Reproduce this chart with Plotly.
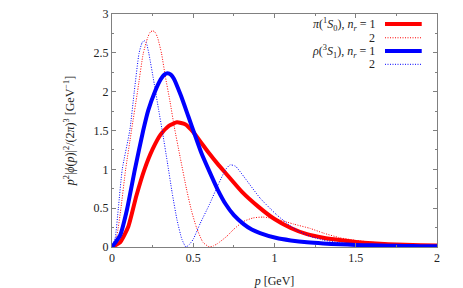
import plotly.graph_objects as go

# Data
p_pi1 = [0, 0.05, 0.1, 0.15, 0.2, 0.25, 0.3, 0.35, 0.4, 0.45, 0.5, 0.55, 0.6, 0.65, 0.7, 0.8, 0.9, 1.0, 1.1, 1.2, 1.3, 1.4, 1.5, 1.6, 1.7, 1.8, 1.9, 2.0]
v_pi1 = [0, 0.06, 0.26, 0.66, 1.0, 1.26, 1.45, 1.56, 1.605, 1.58, 1.48, 1.34, 1.2, 1.07, 0.95, 0.71, 0.52, 0.36, 0.245, 0.165, 0.12, 0.09, 0.065, 0.048, 0.036, 0.028, 0.022, 0.018]

p_pi2 = [0, 0.03, 0.055, 0.084, 0.12, 0.157, 0.192, 0.22, 0.235, 0.25, 0.265, 0.28, 0.305, 0.327, 0.358, 0.383, 0.42, 0.458, 0.49, 0.52, 0.56, 0.6, 0.625, 0.65, 0.706, 0.75, 0.81, 0.87, 0.93, 1.013, 1.116, 1.218, 1.3, 1.4, 1.5, 1.6, 1.7, 1.8, 1.9, 2.0]
v_pi2 = [0, 0.15, 0.5, 1.0, 1.5, 2.0, 2.49, 2.7, 2.765, 2.785, 2.765, 2.7, 2.49, 2.21, 1.86, 1.55, 1.15, 0.75, 0.46, 0.25, 0.06, 0.0, 0.015, 0.045, 0.137, 0.23, 0.33, 0.375, 0.385, 0.36, 0.296, 0.24, 0.18, 0.12, 0.085, 0.062, 0.045, 0.035, 0.028, 0.022]

p_rho1 = [0, 0.05, 0.092, 0.141, 0.192, 0.223, 0.264, 0.3, 0.322, 0.342, 0.362, 0.38, 0.424, 0.47, 0.514, 0.55, 0.6, 0.65, 0.7, 0.75, 0.81, 0.86, 0.911, 1.013, 1.1, 1.2, 1.3, 1.4, 1.5, 1.6, 1.7, 1.8, 1.9, 2.0]
v_rho1 = [0, 0.15, 0.48, 1.0, 1.5, 1.76, 2.0, 2.16, 2.22, 2.237, 2.22, 2.17, 1.95, 1.68, 1.42, 1.21, 0.97, 0.74, 0.55, 0.41, 0.295, 0.225, 0.18, 0.115, 0.085, 0.06, 0.045, 0.035, 0.027, 0.021, 0.017, 0.014, 0.011, 0.009]

p_rho2 = [0, 0.02, 0.039, 0.063, 0.11, 0.137, 0.166, 0.185, 0.198, 0.211, 0.227, 0.26, 0.286, 0.313, 0.34, 0.37, 0.4, 0.43, 0.455, 0.475, 0.5, 0.542, 0.6, 0.653, 0.7, 0.727, 0.76, 0.81, 0.911, 1.013, 1.116, 1.218, 1.3, 1.4, 1.5, 1.6, 1.7, 1.8, 1.9, 2.0]
v_rho2 = [0, 0.12, 0.5, 1.0, 1.508, 2.0, 2.49, 2.63, 2.657, 2.63, 2.49, 2.1, 1.78, 1.45, 1.1, 0.7, 0.35, 0.1, 0.0, 0.03, 0.1, 0.3, 0.55, 0.8, 1.0, 1.058, 1.04, 0.91, 0.63, 0.415, 0.244, 0.137, 0.09, 0.055, 0.033, 0.02, 0.013, 0.009, 0.007, 0.005]

x_ticks = [0, 0.5, 1, 1.5, 2]
x_labels = ["0", "0.5", "1", "1.5", "2"]
y_ticks = [0, 0.5, 1, 1.5, 2, 2.5, 3]
y_labels = ["0", "0.5", "1", "1.5", "2", "2.5", "3"]

legend_labels = [
    "<i>π</i>(<sup>1</sup><i>S</i><sub>0</sub>), <i>n</i><sub><i>r</i></sub> = 1",
    "2",
    "<i>ρ</i>(<sup>3</sup><i>S</i><sub>1</sub>), <i>n</i><sub><i>r</i></sub> = 1",
    "2",
]

RED = "#ff0000"
BLUE = "#0000ff"
FONT = "'Liberation Serif', 'Times New Roman', serif"
TXT = "#222222"
DOT = "1px,1.5px"

fig = go.Figure()
series = [
    (p_pi1, v_pi1, RED, 4, "solid"),
    (p_pi2, v_pi2, RED, 1, DOT),
    (p_rho1, v_rho1, BLUE, 4, "solid"),
    (p_rho2, v_rho2, BLUE, 1, DOT),
]
for xs, ys, c, w, d in series:
    fig.add_trace(go.Scatter(x=xs, y=ys, mode="lines",
                             line=dict(color=c, width=w, dash=d, shape="spline", smoothing=0.5),
                             showlegend=False, hoverinfo="skip", cliponaxis=True))

axis_common = dict(
    showgrid=False, zeroline=False, showline=True, linecolor="#808080", linewidth=1,
    mirror="ticks", ticks="inside", ticklen=4, tickcolor="#808080", automargin=False,
    tickfont=dict(family=FONT, size=12, color=TXT),
    minor=dict(ticks="inside", ticklen=2, tickcolor="#808080", dtick=0.25),
)

fig.update_xaxes(range=[0, 2], tickvals=x_ticks, ticktext=x_labels,
                 title=dict(text="<i>p</i> [GeV]", font=dict(family=FONT, size=12, color=TXT), standoff=12),
                 **axis_common)
fig.update_yaxes(range=[0, 3], tickvals=y_ticks, ticktext=y_labels,
                 title=dict(text="<i>p</i><sup>2</sup>|<i>ϕ</i>(<i>p</i>)|<sup>2</sup>/(2<i>π</i>)<sup>3</sup> [GeV<sup>−1</sup>]",
                            font=dict(family=FONT, size=12, color=TXT), standoff=16),
                 **axis_common)

# Legend (gnuplot style: text right-aligned, sample at right)
row_y = [0.957, 0.898, 0.841, 0.784]
styles = [(RED, 4, "solid"), (RED, 1, DOT), (BLUE, 4, "solid"), (BLUE, 1, DOT)]
for lab, yy, (c, w, d) in zip(legend_labels, row_y, styles):
    fig.add_annotation(x=0.815, y=yy, xref="paper", yref="paper", text=lab, showarrow=False,
                       xanchor="right", yanchor="middle", font=dict(family=FONT, size=12, color=TXT))
    fig.add_shape(type="line", xref="paper", yref="paper", x0=0.84, x1=0.953, y0=yy, y1=yy,
                  line=dict(color=c, width=w, dash=d))

fig.update_layout(width=463, height=288, margin=dict(l=112, r=26, t=14, b=41),
                  paper_bgcolor="white", plot_bgcolor="white")

fig.write_html("out.html", config={"displayModeBar": False, "staticPlot": True},
               post_script="document.body.style.margin='0';document.body.style.overflow='hidden';")
